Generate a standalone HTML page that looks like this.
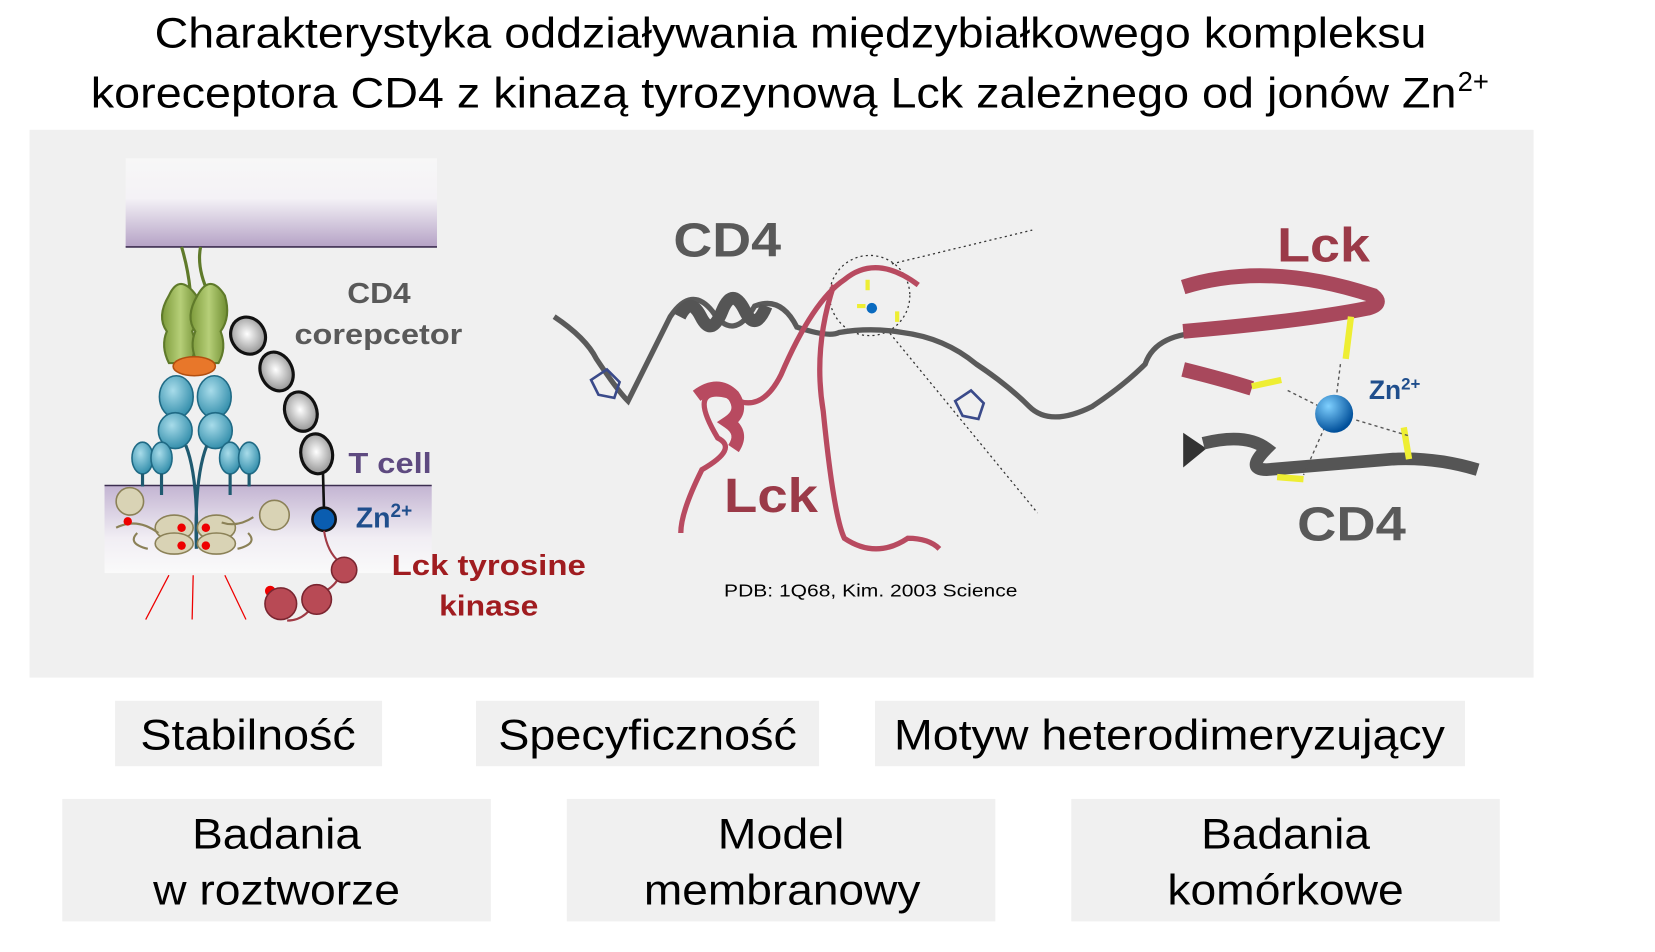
<!DOCTYPE html>
<html><head><meta charset="utf-8"><style>
html,body{margin:0;padding:0;background:#fff;}
svg{display:block;font-family:"Liberation Sans",Arial,sans-serif;}
</style></head><body>
<svg width="1655" height="952" viewBox="0 0 1568 902" xmlns="http://www.w3.org/2000/svg">
<defs>
<linearGradient id="topm" x1="0" y1="0" x2="0" y2="1"><stop offset="0" stop-color="#f7f7f7"/><stop offset="0.45" stop-color="#f4f2f6"/><stop offset="1" stop-color="#b5a2c6"/></linearGradient>
<linearGradient id="botm" x1="0" y1="0" x2="0" y2="1"><stop offset="0" stop-color="#c3b4d2"/><stop offset="0.6" stop-color="#f1eef4"/><stop offset="1" stop-color="#fafafa"/></linearGradient>
<radialGradient id="gb" cx="0.5" cy="0.45" r="0.6"><stop offset="0" stop-color="#fff"/><stop offset="1" stop-color="#8a8a8a"/></radialGradient>
<radialGradient id="bb" cx="0.4" cy="0.35" r="0.7"><stop offset="0" stop-color="#a8dcea"/><stop offset="1" stop-color="#2d8aa8"/></radialGradient>
<radialGradient id="zn" cx="0.35" cy="0.3" r="0.7"><stop offset="0" stop-color="#7fd0ff"/><stop offset="1" stop-color="#004f9a"/></radialGradient>
<linearGradient id="gr" x1="0" y1="0" x2="1" y2="0"><stop offset="0" stop-color="#7c9a3a"/><stop offset="0.5" stop-color="#b6cf78"/><stop offset="1" stop-color="#6f8d31"/></linearGradient>
</defs>
<text x="749" y="45" text-anchor="middle" font-size="40" fill="#000" textLength="1205" lengthAdjust="spacingAndGlyphs">Charakterystyka oddziaływania międzybiałkowego kompleksu</text>
<text x="733" y="102" text-anchor="middle" font-size="40" fill="#000" textLength="1294" lengthAdjust="spacingAndGlyphs">koreceptora CD4 z kinazą tyrozynową Lck zależnego od jonów Zn</text>
<text x="1381" y="86" font-size="26" fill="#000">2+</text>
<rect x="28" y="123" width="1425" height="519" fill="#f0f0f0"/>
<!-- left diagram -->
<rect x="119" y="150" width="295" height="84" fill="url(#topm)"/>
<line x1="119" y1="234" x2="414" y2="234" stroke="#3c2e50" stroke-width="1.5"/>
<rect x="99" y="460" width="310" height="83" fill="url(#botm)"/>
<line x1="99" y1="460" x2="409" y2="460" stroke="#3c2e50" stroke-width="1.5"/>
<path d="M172 234 q6 20 8 40 M190 234 q-4 20 8 45" stroke="#5f7a2a" stroke-width="3" fill="none"/>
<path d="M160 280 q10 -22 26 0 q6 20 -4 34 q6 16 -2 30 h-20 q-8 -16 -2 -30 q-10 -14 2 -34z" fill="url(#gr)" stroke="#5f7a2a" stroke-width="2"/>
<path d="M187 280 q12 -22 26 0 q6 20 -4 34 q6 16 -2 30 h-20 q-8 -16 -2 -30 q-10 -14 2 -34z" fill="url(#gr)" stroke="#5f7a2a" stroke-width="2"/>
<ellipse cx="184" cy="347" rx="20" ry="9" fill="#e8772a" stroke="#b24f10" stroke-width="1.5"/>
<g fill="url(#bb)" stroke="#1f6a85" stroke-width="1.5">
<ellipse cx="167" cy="376" rx="16" ry="20"/><ellipse cx="203" cy="376" rx="16" ry="20"/>
<ellipse cx="166" cy="408" rx="16" ry="17"/><ellipse cx="204" cy="408" rx="16" ry="17"/>
<ellipse cx="135" cy="434" rx="10" ry="15"/><ellipse cx="153" cy="434" rx="10" ry="15"/>
<ellipse cx="218" cy="434" rx="10" ry="15"/><ellipse cx="236" cy="434" rx="10" ry="15"/>
</g>
<path d="M135 449v12 M153 449v20 M218 449v20 M236 449v12 M176 422 q12 30 10 98 M196 422 q-12 30 -10 98" stroke="#1f5a70" stroke-width="3" fill="none"/>
<g fill="#d9d3b5" stroke="#8b8157" stroke-width="1.5">
<circle cx="123" cy="475" r="13"/><circle cx="260" cy="488" r="14"/>
<ellipse cx="165" cy="500" rx="18" ry="12"/><ellipse cx="165" cy="515" rx="18" ry="10"/>
<ellipse cx="205" cy="500" rx="18" ry="12"/><ellipse cx="205" cy="515" rx="18" ry="10"/>
</g>
<path d="M110 500 q20 -10 40 5 M240 490 q-15 10 -30 5 M140 520 q-20 -5 -10 -15 M225 520 q20 -5 10 -15" stroke="#8b8157" stroke-width="2" fill="none"/>
<g fill="#e00"><circle cx="121" cy="494" r="4"/><circle cx="172" cy="500" r="4"/><circle cx="172" cy="517" r="4"/><circle cx="195" cy="500" r="4"/><circle cx="195" cy="517" r="4"/><circle cx="256" cy="560" r="5"/></g>
<path d="M160 545 l-22 42 M183 545 l-1 42 M213 545 l20 42" stroke="#e00" stroke-width="1.2"/>
<g fill="url(#gb)" stroke="#111" stroke-width="3">
<ellipse cx="235" cy="318" rx="16" ry="18" transform="rotate(-30 235 318)"/>
<ellipse cx="262" cy="352" rx="15" ry="19" transform="rotate(-25 262 352)"/>
<ellipse cx="285" cy="390" rx="15" ry="19" transform="rotate(-20 285 390)"/>
<ellipse cx="300" cy="430" rx="15" ry="19" transform="rotate(-10 300 430)"/>
</g>
<line x1="306" y1="449" x2="307" y2="485" stroke="#111" stroke-width="2.5"/>
<circle cx="307" cy="492" r="11" fill="#0a5db0" stroke="#111" stroke-width="2.5"/>
<path d="M307 503 q3 20 15 30 q4 20 -20 30 q-10 25 -30 25" stroke="#a03a45" stroke-width="2" fill="none"/>
<g fill="#b84a55" stroke="#7a2530" stroke-width="1.5"><circle cx="326" cy="540" r="12"/><circle cx="300" cy="568" r="14"/><circle cx="266" cy="572" r="15"/></g>
<g font-size="27" font-weight="bold">
<text x="329" y="287" fill="#595959" textLength="60" lengthAdjust="spacingAndGlyphs">CD4</text>
<text x="279" y="326" fill="#595959" textLength="159" lengthAdjust="spacingAndGlyphs">corepcetor</text>
<text x="330" y="448" fill="#5e4a80" textLength="79" lengthAdjust="spacingAndGlyphs">T cell</text>
<text x="337" y="500" fill="#1f4e8c">Zn<tspan font-size="18" dy="-10">2+</tspan></text>
<text x="371" y="545" fill="#a01c20" textLength="184" lengthAdjust="spacingAndGlyphs">Lck tyrosine</text>
<text x="416" y="583" fill="#a01c20" textLength="94" lengthAdjust="spacingAndGlyphs">kinase</text>
</g>
<!-- middle structure -->
<g font-size="46" font-weight="bold">
<text x="638" y="243" fill="#595959" textLength="102" lengthAdjust="spacingAndGlyphs">CD4</text>
<text x="686" y="485" fill="#9b3a48" textLength="89" lengthAdjust="spacingAndGlyphs">Lck</text>
<text x="1210" y="248" fill="#9b3a48" textLength="88" lengthAdjust="spacingAndGlyphs">Lck</text>
<text x="1229" y="512" fill="#595959" textLength="103" lengthAdjust="spacingAndGlyphs">CD4</text>
</g>
<circle cx="824" cy="280" r="38" fill="none" stroke="#333" stroke-width="1.2" stroke-dasharray="2 3"/>
<path d="M845 250 L978 218 M840 312 L983 486" stroke="#333" stroke-width="1.2" stroke-dasharray="2 3"/>
<path d="M525 300 q30 20 40 40 q20 30 30 40 q20 -40 40 -80 q20 -30 40 -5 q20 30 40 -5 q25 -10 40 20 q30 10 40 5 q30 -5 60 0 q40 5 70 30 q30 20 50 40 q20 20 60 0 q30 -20 50 -40 q10 -30 60 -30" stroke="#5a5a5a" stroke-width="5" fill="none"/>
<path d="M644 300 q10 -20 20 0 q10 20 20 -5 q10 -25 22 0 q10 20 20 -5" stroke="#555" stroke-width="12" fill="none"/>
<path d="M870 270 q-40 -30 -70 -5 q-30 20 -60 90 q-20 40 -50 20 q-40 -10 -10 40 q20 10 -15 30 q-20 40 -20 60 M790 270 q-20 60 -10 120 q10 100 20 120 q30 20 60 0 q20 0 30 10" stroke="#b84a60" stroke-width="5" fill="none"/>
<path d="M660 375 q20 -15 35 0 q10 15 -5 25 q15 10 5 25" stroke="#b84a60" stroke-width="12" fill="none"/>
<path d="M822 265v10 M812 290h8 M850 295v10" stroke="#ee3" stroke-width="4"/>
<circle cx="826" cy="292" r="5" fill="#0a6bc0"/>
<path d="M560 360 l15 -10 l12 12 l-5 15 l-15 -3z M905 380 l15 -10 l12 12 l-5 15 l-15 -3z" fill="none" stroke="#3a4a8a" stroke-width="2.5"/>
<text x="686" y="565" font-size="17" fill="#000" textLength="278" lengthAdjust="spacingAndGlyphs">PDB: 1Q68, Kim. 2003 Science</text>
<!-- right zoom -->
<path d="M1121 272 q80 -25 180 8 q10 8 -5 12 q-60 12 -175 22" stroke="#a8485c" stroke-width="14" fill="none"/>
<path d="M1121 350 q40 10 65 18" stroke="#a8485c" stroke-width="14" fill="none"/>
<path d="M1186 366 l28 -6" stroke="#ee3" stroke-width="6"/>
<path d="M1280 300 l-5 40" stroke="#ee3" stroke-width="6"/>
<path d="M1121 410 l22 15 l-22 18z" fill="#333"/>
<path d="M1140 420 q40 -10 60 5 q-20 20 0 20 q60 -5 120 -10 q40 -2 80 10" stroke="#555" stroke-width="12" fill="none"/>
<path d="M1210 452 l25 2 M1330 405 l5 30" stroke="#ee3" stroke-width="6"/>
<path d="M1270 345 l-5 40 M1220 370 l40 20 M1285 398 l50 15 M1255 405 l-20 45" stroke="#555" stroke-width="1.3" stroke-dasharray="3 3"/>
<circle cx="1264" cy="392" r="18" fill="url(#zn)"/>
<text x="1297" y="378" font-size="25" font-weight="bold" fill="#1f4e8c">Zn<tspan font-size="16" dy="-9">2+</tspan></text>
<!-- boxes -->
<g fill="#f0f0f0">
<rect x="109" y="664" width="253" height="62"/><rect x="451" y="664" width="325" height="62"/><rect x="829" y="664" width="559" height="62"/>
<rect x="59" y="757" width="406" height="116"/><rect x="537" y="757" width="406" height="116"/><rect x="1015" y="757" width="406" height="116"/>
</g>
<g font-size="40" fill="#000" lengthAdjust="spacingAndGlyphs">
<text x="133" y="710" textLength="204" lengthAdjust="spacingAndGlyphs">Stabilność</text>
<text x="472" y="710" textLength="283" lengthAdjust="spacingAndGlyphs">Specyficzność</text>
<text x="847" y="710" textLength="522" lengthAdjust="spacingAndGlyphs">Motyw heterodimeryzujący</text>
<text x="182" y="804" textLength="160" lengthAdjust="spacingAndGlyphs">Badania</text>
<text x="145" y="857" textLength="234" lengthAdjust="spacingAndGlyphs">w roztworze</text>
<text x="680" y="804" textLength="120" lengthAdjust="spacingAndGlyphs">Model</text>
<text x="610" y="857" textLength="262" lengthAdjust="spacingAndGlyphs">membranowy</text>
<text x="1138" y="804" textLength="160" lengthAdjust="spacingAndGlyphs">Badania</text>
<text x="1106" y="857" textLength="224" lengthAdjust="spacingAndGlyphs">komórkowe</text>
</g>
</svg>
</body></html>
